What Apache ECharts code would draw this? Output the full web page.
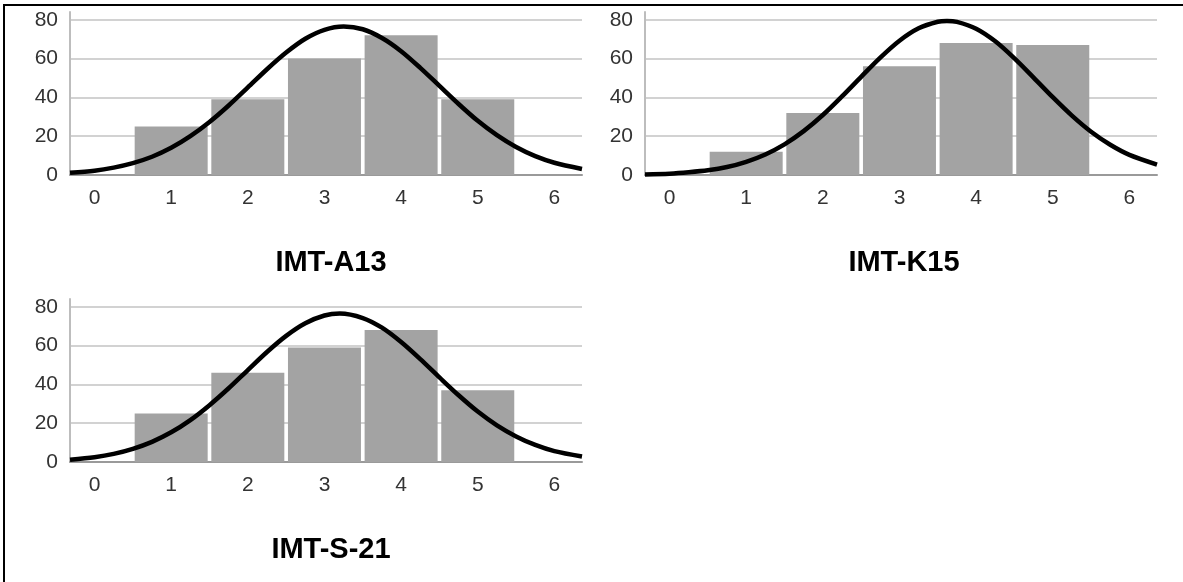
<!DOCTYPE html>
<html>
<head>
<meta charset="utf-8">
<script src="https://cdn.jsdelivr.net/npm/echarts@6/dist/echarts.min.js"></script>
<style>
  html, body { margin: 0; padding: 0; background: #fff; }
  #wrap { position: relative; width: 1183px; height: 582px; overflow: hidden; }
  #frame { position: absolute; left: 3px; top: 4px; width: 1300px; height: 700px;
           border-top: 2px solid #000; border-left: 2px solid #000; pointer-events: none; z-index: 2; }
  #chart { position: absolute; left: 0; top: 0; width: 1183px; height: 582px; }
</style>
</head>
<body>
<div id="wrap">
  <div id="chart"></div>
  <div id="frame"></div>
</div>
<script>
// ---- data ----
const panelTitles = ['IMT-A13', 'IMT-K15', 'IMT-S-21'];
const scoreCategories = [1, 2, 3, 4, 5];
const xTickLabels = [0, 1, 2, 3, 4, 5, 6];
const yTickLabels = [0, 20, 40, 60, 80];

const countsA13 = [25, 39, 60, 72, 39];
const countsK15 = [12, 32, 56, 68, 67];
const countsS21 = [25, 46, 59, 68, 37];

// normal-curve points
const curveXA13 = [-0.32, 0, 0.25, 0.5, 0.75, 1, 1.25, 1.5, 1.75, 2, 2.25, 2.5, 2.75, 3, 3.25, 3.5, 3.75, 4, 4.25, 4.5, 4.75, 5, 5.25, 5.5, 5.75, 6, 6.36];
const curveA13  = [1.1, 2.2, 3.8, 6.1, 9.4, 14.0, 20.0, 27.3, 35.8, 45.1, 54.5, 63.1, 70.2, 74.8, 76.5, 75.1, 70.6, 63.8, 55.2, 45.9, 36.6, 27.9, 20.5, 14.4, 9.7, 6.3, 3.1];
const curveXK15 = [-0.32, 0, 0.25, 0.5, 0.75, 1, 1.25, 1.5, 1.75, 2, 2.25, 2.5, 2.75, 3, 3.25, 3.5, 3.62, 3.75, 4, 4.25, 4.5, 4.75, 5, 5.25, 5.5, 5.75, 6, 6.36];
const curveK15  = [0.3, 0.7, 1.4, 2.4, 4.1, 6.8, 10.6, 15.8, 22.6, 30.9, 40.5, 50.6, 60.5, 69.2, 75.6, 79.0, 79.4, 78.9, 75.4, 68.9, 60.1, 50.2, 40.1, 30.6, 22.3, 15.6, 10.4, 5.4];
const curveXS21 = [-0.32, 0, 0.25, 0.5, 0.75, 1, 1.25, 1.5, 1.75, 2, 2.25, 2.5, 2.75, 3, 3.2, 3.5, 3.75, 4, 4.25, 4.5, 4.75, 5, 5.25, 5.5, 5.75, 6, 6.36];
const curveS21  = [1.2, 2.5, 4.2, 6.8, 10.4, 15.3, 21.6, 29.3, 38.0, 47.4, 56.7, 65.0, 71.5, 75.5, 76.5, 74.2, 69.2, 61.8, 53.0, 43.6, 34.4, 26.0, 18.9, 13.2, 8.8, 5.6, 2.8];

const panels = [
  { title: panelTitles[0], counts: countsA13, cx: curveXA13, curve: curveA13 },
  { title: panelTitles[1], counts: countsK15, cx: curveXK15, curve: curveK15 },
  { title: panelTitles[2], counts: countsS21, cx: curveXS21, curve: curveS21 }
];

// ---- layout ----
const layout = [
  { left: 70,  top: 12,  titleX: 326, titleY: 243 },
  { left: 645, top: 12,  titleX: 899, titleY: 243 },
  { left: 70,  top: 299, titleX: 326, titleY: 530 }
];
const gridW = 512, gridH = 163;
const FONT = "'Liberation Sans', Arial, sans-serif";

const option = {
  animation: false,
  backgroundColor: '#fff',
  title: [], grid: [], xAxis: [], yAxis: [], series: []
};

panels.forEach((p, i) => {
  const L = layout[i];
  option.title.push({
    text: p.title,
    left: L.titleX, top: L.titleY, textAlign: 'center',
    textStyle: { fontFamily: FONT, fontSize: 29, fontWeight: 'bold', color: '#000' }
  });
  option.grid.push({ left: L.left, top: L.top, width: gridW, height: gridH, containLabel: false });
  option.xAxis.push({
    type: 'value', gridIndex: i, min: -0.32, max: 6.36,
    axisLine: { show: true, onZero: false, lineStyle: { color: '#9a9a9a', width: 2 } },
    axisTick: { show: false },
    splitLine: { show: false },
    axisLabel: {
      customValues: xTickLabels, margin: 13,
      fontFamily: FONT, fontSize: 21, color: '#333'
    }
  });
  option.yAxis.push({
    type: 'value', gridIndex: i, min: 0, max: 84, interval: 20,
    axisLine: { show: true, onZero: false, lineStyle: { color: '#bdbdbd', width: 2 } },
    axisTick: { show: false },
    splitLine: { show: true, showMinLine: false, showMaxLine: false,
                 lineStyle: { color: '#d2d2d2', width: 2 } },
    axisLabel: {
      customValues: yTickLabels, margin: 12,
      fontFamily: FONT, fontSize: 21, color: '#333'
    }
  });
  option.series.push({
    type: 'bar', xAxisIndex: i, yAxisIndex: i,
    data: scoreCategories.map((c, k) => [c, p.counts[k]]),
    barWidth: 73,
    itemStyle: { color: '#a3a3a3' },
    z: 2
  });
  option.series.push({
    type: 'line', xAxisIndex: i, yAxisIndex: i,
    data: p.cx.map((x, k) => [x, p.curve[k]]),
    smooth: 0.3, showSymbol: false, symbol: 'none',
    lineStyle: { color: '#000', width: 4.5 },
    clip: false, z: 3
  });
});

const chart = echarts.init(document.getElementById('chart'), null, { renderer: 'canvas' });
chart.setOption(option);
</script>
</body>
</html>
